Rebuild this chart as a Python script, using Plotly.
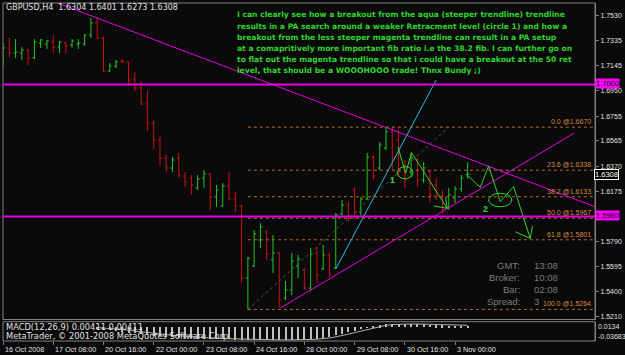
import plotly.graph_objects as go

# ---------------- data ----------------
BARS = list(range(75))
OPEN = [1.7188, 1.7281, 1.7242, 1.7242, 1.7265, 1.7204, 1.7319, 1.7312, 1.7327, 1.7288,
        1.7319, 1.7304, 1.7312, 1.7312, 1.7381, 1.7474, 1.7358, 1.7103, 1.7142, 1.7180,
        1.7173, 1.7042, 1.6972, 1.6849, 1.6702, 1.6571, 1.6432, 1.6355, 1.6432, 1.6293,
        1.6278, 1.6201, 1.6278, 1.6309, 1.6131, 1.6062, 1.6216, 1.6116, 1.6062, 1.5506,
        1.5599, 1.5799, 1.5861, 1.5645, 1.5699, 1.5352, 1.5414, 1.5599, 1.5568, 1.5429,
        1.5699, 1.5576, 1.5684, 1.5583, 1.6000, 1.6069, 1.6185, 1.6015, 1.6116, 1.6440,
        1.6355, 1.6509, 1.6633, 1.6571, 1.6378, 1.6324, 1.6417, 1.6262, 1.6324, 1.6224,
        1.6139, 1.6054, 1.6123, 1.6193, 1.6304]
HIGH = [1.7319, 1.7358, 1.7350, 1.7288, 1.7273, 1.7350, 1.7350, 1.7343, 1.7381, 1.7335,
        1.7335, 1.7350, 1.7350, 1.7389, 1.7512, 1.7512, 1.7366, 1.7165, 1.7188, 1.7196,
        1.7180, 1.7096, 1.7026, 1.6949, 1.6725, 1.6594, 1.6455, 1.6440, 1.6471, 1.6324,
        1.6301, 1.6301, 1.6339, 1.6316, 1.6224, 1.6239, 1.6324, 1.6170, 1.6069, 1.5668,
        1.5876, 1.5930, 1.5876, 1.5838, 1.5707, 1.5483, 1.5699, 1.5684, 1.5583, 1.5738,
        1.5745, 1.5761, 1.5699, 1.6008, 1.6108, 1.6093, 1.6208, 1.6131, 1.6471, 1.6455,
        1.6555, 1.6664, 1.6670, 1.6648, 1.6417, 1.6471, 1.6432, 1.6401, 1.6339, 1.6278,
        1.6185, 1.6201, 1.6216, 1.6301, 1.6401]
LOW = [1.7134, 1.7211, 1.7204, 1.7188, 1.7150, 1.7196, 1.7281, 1.7273, 1.7242, 1.7242,
       1.7242, 1.7281, 1.7273, 1.7296, 1.7358, 1.7350, 1.7096, 1.7096, 1.7126, 1.7165,
       1.6988, 1.6949, 1.6841, 1.6640, 1.6501, 1.6378, 1.6324, 1.6324, 1.6278, 1.6208,
       1.6147, 1.6185, 1.6201, 1.6031, 1.6054, 1.6054, 1.6108, 1.6015, 1.5468, 1.5264,
       1.5591, 1.5738, 1.5645, 1.5545, 1.5275, 1.5336, 1.5375, 1.5506, 1.5414, 1.5414,
       1.5468, 1.5568, 1.5514, 1.5576, 1.5992, 1.5938, 1.5954, 1.5992, 1.6108, 1.6262,
       1.6339, 1.6494, 1.6339, 1.6285, 1.6201, 1.6285, 1.6208, 1.6239, 1.6093, 1.6108,
       1.6008, 1.6031, 1.6085, 1.6170, 1.6273]
CLOSE = [1.7281, 1.7242, 1.7250, 1.7265, 1.7204, 1.7327, 1.7343, 1.7335, 1.7288, 1.7327,
         1.7296, 1.7335, 1.7319, 1.7381, 1.7474, 1.7358, 1.7103, 1.7142, 1.7173, 1.7173,
         1.7034, 1.6972, 1.6849, 1.6702, 1.6571, 1.6432, 1.6355, 1.6417, 1.6301, 1.6247,
         1.6224, 1.6270, 1.6309, 1.6131, 1.6185, 1.6216, 1.6116, 1.6062, 1.5506, 1.5660,
         1.5846, 1.5900, 1.5691, 1.5699, 1.5336, 1.5414, 1.5637, 1.5653, 1.5429, 1.5691,
         1.5529, 1.5684, 1.5529, 1.5992, 1.6069, 1.5969, 1.6008, 1.6116, 1.6440, 1.6293,
         1.6532, 1.6633, 1.6417, 1.6339, 1.6262, 1.6432, 1.6262, 1.6355, 1.6147, 1.6139,
         1.6031, 1.6147, 1.6193, 1.6278, 1.6308]

MACD_BARS = list(range(15, 75))
MACD_MAIN = [-0.004, -0.006, -0.008, -0.010, -0.012, -0.014, -0.016, -0.018, -0.020, -0.022,
             -0.024, -0.025, -0.026, -0.027, -0.028, -0.029, -0.030, -0.031, -0.031, -0.032,
             -0.032, -0.032, -0.033, -0.033, -0.034, -0.034, -0.034, -0.034, -0.034, -0.034,
             -0.034, -0.033, -0.033, -0.033, -0.032, -0.031, -0.028, -0.025, -0.021, -0.017,
             -0.013, -0.009, -0.005, -0.001, 0.002, 0.005, 0.007, 0.0075, 0.0075, 0.0075,
             0.0075, 0.007, 0.007, 0.006, 0.005, 0.0045, 0.0042, 0.0041, 0.0041, 0.0041]
MACD_SIGNAL = [-0.002, -0.003, -0.004, -0.006, -0.007, -0.009, -0.011, -0.013, -0.015, -0.017,
               -0.019, -0.020, -0.022, -0.023, -0.025, -0.026, -0.027, -0.028, -0.029, -0.030,
               -0.030, -0.031, -0.031, -0.032, -0.032, -0.033, -0.033, -0.033, -0.034, -0.034,
               -0.034, -0.034, -0.034, -0.033, -0.033, -0.032, -0.031, -0.029, -0.026, -0.023,
               -0.019, -0.015, -0.011, -0.007, -0.003, 0.001, 0.004, 0.006, 0.007, 0.0075,
               0.0075, 0.0075, 0.0072, 0.0068, 0.006, 0.0053, 0.0047, 0.0044, 0.0042, 0.0041]

DATE_TICKS = [0, 8, 16, 24, 32, 40, 48, 56, 64, 72]
DATE_LABELS = ["16 Oct 2008", "17 Oct 08:00", "20 Oct 16:00", "22 Oct 00:00", "23 Oct 08:00",
               "24 Oct 16:00", "28 Oct 00:00", "29 Oct 08:00", "30 Oct 16:00", "3 Nov 00:00"]
PRICE_TICKS = [1.7530, 1.7335, 1.7145, 1.6950, 1.6755, 1.6565, 1.6370, 1.6175,
               1.5980, 1.5790, 1.5595, 1.5400, 1.5210]

HLINES = [1.7000, 1.5980]
FIB_LEVELS = ["0.0", "23.6", "38.2", "50.0", "61.8", "100.0"]
FIB_PRICES = [1.6670, 1.6338, 1.6133, 1.5967, 1.5801, 1.5264]
FIB_START = 39
FIB_DIAG_X = [39, 71]
FIB_DIAG_Y = [1.5264, 1.6670]

TL_DOWN_X = [15, 62]          # magenta descending trendline anchors (ray both ways)
TL_DOWN_Y = [1.7512, 1.6649]
TL_UP_X = [44.2, 91.0]        # magenta ascending trendline segment
TL_UP_Y = [1.5275, 1.6625]
TL_AQUA_X = [53, 69]          # aqua steep trendline segment
TL_AQUA_Y = [1.5576, 1.7034]

PATH1_X = [62.9, 64.13, 65.08, 70.73]
PATH1_Y = [1.6519, 1.6314, 1.6473, 1.6044]
HEAD1_X = [68.6, 70.73, 70.5]
HEAD1_Y = [1.6062, 1.6044, 1.6131]
PATH2_X = [73.9, 76.03, 77.35, 79.2, 81.32, 83.97]
PATH2_Y = [1.6301, 1.6206, 1.6370, 1.6095, 1.6211, 1.5812]
HEAD2_X = [81.59, 83.97, 84.33]
HEAD2_Y = [1.5863, 1.5812, 1.5907]
ELLIPSES = [(62.79, 65.29, 1.6272, 1.6365), (77.35, 81.05, 1.6056, 1.6160)]
NUM_LABELS = [("1", 62.1, 1.6262), ("2", 76.9, 1.6036)]

TITLE = "GBPUSD,H4  1.6304 1.6401 1.6273 1.6308"
NOTE_LINES = [
    "I can clearly see how a breakout from the aqua (steeper trendline) trendline",
    "results in a PA search around a weaker Retracment level (circle 1) and how a",
    "breakout from the less steeper magenta trendline can result in a PA setup",
    "at a comapritively more important fib ratio i.e the 38.2 fib. I can further go on",
    "to flat out the magenta trendline so that i could have a breakout at the 50 ret",
    "level, that should be a WOOOHOOO trade! Thnx Bundy ;)",
]
INFO_KEYS = ["GMT:", "Broker:", "Bar:", "Spread:"]
INFO_VALS = ["13:08", "10:08", "02:08", "3"]
MACD_TITLE = "MACD(12,26,9) 0.00411 0.00411"
COPYRIGHT = "MetaTrader, \u00a9 2001-2008 MetaQuotes Software Corp."
LAST_PRICE = 1.6308
MACD_AXIS = ["0.0134", "-0.03683"]

# ---------------- styling / layout ----------------
W, H = 625, 355
ML, MR, MT, MB = 3, 28, 3, 14
PW, PH = W - ML - MR, H - MT - MB
FONT = "Liberation Sans, Arial, sans-serif"
WIDEFONT = "DejaVu Sans, Verdana, sans-serif"
BG = "#0a0a0a"
GRAY = "#808080"
UP, DN = "#25c425", "#cc1111"
MAGENTA = "#e600e6"
FIBC = "#b8692a"
GREEN = "#2fd42f"
XR = [0.0, 94.29]
YR = [1.5186, 1.7628]
MACD_R = [-0.03683, 0.0134]


def px(x):
    return (x - ML) / PW


def py(y):
    return (H - MB - y) / PH


MAIN_DOM = [py(319.5), 1.0]
MACD_DOM = [0.0, py(321.7)]

fig = go.Figure()
fig.add_trace(go.Ohlc(x=BARS, open=OPEN, high=HIGH, low=LOW, close=CLOSE,
                      increasing=dict(line=dict(color=UP, width=1)),
                      decreasing=dict(line=dict(color=DN, width=1)),
                      tickwidth=0.32, xaxis="x", yaxis="y", hoverinfo="skip"))

# trendlines
k = (TL_DOWN_Y[1] - TL_DOWN_Y[0]) / (TL_DOWN_X[1] - TL_DOWN_X[0])
dx = [XR[0] - 2, XR[1] + 2]
dy = [TL_DOWN_Y[0] + k * (v - TL_DOWN_X[0]) for v in dx]
fig.add_trace(go.Scatter(x=dx, y=dy, mode="lines", line=dict(color=MAGENTA, width=1), hoverinfo="skip"))
fig.add_trace(go.Scatter(x=TL_UP_X, y=TL_UP_Y, mode="lines", line=dict(color=MAGENTA, width=1), hoverinfo="skip"))
fig.add_trace(go.Scatter(x=TL_AQUA_X, y=TL_AQUA_Y, mode="lines", line=dict(color="#22bde0", width=1), hoverinfo="skip"))
fig.add_trace(go.Scatter(x=FIB_DIAG_X, y=FIB_DIAG_Y, mode="lines", line=dict(color="#555548", width=1, dash="dot"), hoverinfo="skip"))
for xs, ys in [(PATH1_X, PATH1_Y), (HEAD1_X, HEAD1_Y), (PATH2_X, PATH2_Y), (HEAD2_X, HEAD2_Y)]:
    fig.add_trace(go.Scatter(x=xs, y=ys, mode="lines", line=dict(color=GREEN, width=1), hoverinfo="skip"))

# MACD
fig.add_trace(go.Bar(x=MACD_BARS, y=MACD_MAIN, width=0.17, marker=dict(color="#c0c0c0", line=dict(width=0)),
                     xaxis="x", yaxis="y2", hoverinfo="skip"))
fig.add_trace(go.Scatter(x=MACD_BARS, y=MACD_SIGNAL, mode="lines", line=dict(color="#b0b0b0", width=1),
                         xaxis="x", yaxis="y2", hoverinfo="skip"))

shapes = []
shapes.append(dict(type="rect", xref="paper", yref="paper", x0=0, x1=1, y0=MAIN_DOM[0], y1=MAIN_DOM[1],
                   line=dict(color=GRAY, width=1), layer="above"))
shapes.append(dict(type="rect", xref="paper", yref="paper", x0=0, x1=1, y0=MACD_DOM[0], y1=MACD_DOM[1],
                   line=dict(color=GRAY, width=1), layer="above"))
for p in HLINES:
    shapes.append(dict(type="line", xref="paper", yref="y", x0=0, x1=1, y0=p, y1=p,
                       line=dict(color=MAGENTA, width=2)))
for p in FIB_PRICES:
    shapes.append(dict(type="line", xref="x", yref="y", x0=FIB_START, x1=XR[1], y0=p, y1=p,
                       line=dict(color=FIBC, width=1, dash="dot")))
for x0, x1, y0, y1 in ELLIPSES:
    shapes.append(dict(type="circle", xref="x", yref="y", x0=x0, x1=x1, y0=y0, y1=y1,
                       line=dict(color=GREEN, width=1)))

ann = []
ann.append(dict(text=TITLE, xref="paper", yref="paper", x=px(4), y=py(7.5), xanchor="left", yanchor="middle",
                showarrow=False, font=dict(family=WIDEFONT, size=8, color="#e0e0e0")))
for i, line in enumerate(NOTE_LINES):
    ann.append(dict(text="<b>" + line + "</b>", xref="paper", yref="paper", x=px(236), y=py(15 + 11.14 * i),
                    xanchor="left", yanchor="middle", showarrow=False,
                    font=dict(family=WIDEFONT, size=7.6, color=GREEN)))
for lvl, p in zip(FIB_LEVELS, FIB_PRICES):
    ann.append(dict(text=f"{lvl} @{p:.4f}", xref="paper", yref="y", x=px(595), y=p, xanchor="right",
                    yanchor="bottom", showarrow=False, font=dict(family=FONT, size=7, color="#d8883e")))
for i, (kk, vv) in enumerate(zip(INFO_KEYS, INFO_VALS)):
    yy = py(265 + 12.2 * i)
    ann.append(dict(text=kk, xref="paper", yref="paper", x=px(524), y=yy, xanchor="right", yanchor="middle",
                    showarrow=False, font=dict(family=FONT, size=9.5, color="#7a7a7a")))
    ann.append(dict(text=vv, xref="paper", yref="paper", x=px(534), y=yy, xanchor="left", yanchor="middle",
                    showarrow=False, font=dict(family=FONT, size=9.5, color="#7a7a7a")))
ann.append(dict(text=MACD_TITLE, xref="paper", yref="paper", x=px(4), y=py(327.3), xanchor="left", yanchor="middle",
                showarrow=False, font=dict(family=WIDEFONT, size=8.3, color="#e0e0e0")))
ann.append(dict(text=COPYRIGHT, xref="paper", yref="paper", x=px(4), y=py(335.5), xanchor="left", yanchor="middle",
                showarrow=False, font=dict(family=WIDEFONT, size=8.3, color="#e0e0e0")))
for t, lab in zip(DATE_TICKS, DATE_LABELS):
    ann.append(dict(text=lab, xref="x", yref="paper", x=t, y=py(349.3), xanchor="left", yanchor="middle",
                    xshift=0, showarrow=False, font=dict(family=FONT, size=7.2, color="#e0e0e0")))
for t, yy in zip(MACD_AXIS, [326.7, 336.2]):
    ann.append(dict(text=t, xref="paper", yref="paper", x=1, y=py(yy), xanchor="left", yanchor="middle",
                    xshift=1, showarrow=False, font=dict(family=FONT, size=7, color="#e0e0e0")))
for p in HLINES:
    ann.append(dict(text=f"{p:.4f}", xref="paper", yref="y", x=1, y=p, xanchor="left", yanchor="middle",
                    xshift=0, yshift=1, showarrow=False, bgcolor="#ff00ff", borderpad=0,
                    font=dict(family=FONT, size=7.5, color="#000000")))
ann.append(dict(text=f"{LAST_PRICE:.4f}", xref="paper", yref="y", x=1, y=LAST_PRICE, xanchor="left",
                yanchor="middle", xshift=-1, showarrow=False, bgcolor="#000000", bordercolor="#ffffff",
                borderwidth=1, borderpad=0, font=dict(family=FONT, size=7.5, color="#ffffff")))
for t, bx, by in NUM_LABELS:
    ann.append(dict(text="<b>" + t + "</b>", xref="x", yref="y", x=bx, y=by, showarrow=False,
                    font=dict(family=FONT, size=9, color=GREEN)))

# price axis labels: the 1.5980 label sits under the magenta price box, as in MT4
PRICE_TEXT = ["" if v in HLINES else f"{v:.4f}" for v in PRICE_TICKS]

fig.update_layout(
    width=W, height=H, margin=dict(l=ML, r=MR, t=MT, b=MB, pad=0),
    paper_bgcolor=BG, plot_bgcolor=BG, showlegend=False, bargap=0,
    shapes=shapes, annotations=ann,
    xaxis=dict(range=XR, anchor="y2", tickvals=DATE_TICKS, showticklabels=False, ticks="outside",
               ticklen=3, tickcolor=GRAY, showgrid=False, zeroline=False, showline=False,
               rangeslider=dict(visible=False), fixedrange=True),
    yaxis=dict(domain=MAIN_DOM, range=YR, side="right", anchor="x", tickvals=PRICE_TICKS,
               ticktext=PRICE_TEXT, ticks="outside", ticklen=3, tickcolor=GRAY,
               tickfont=dict(family=FONT, size=7, color="#e0e0e0"), showgrid=False, zeroline=False,
               showline=True, linecolor=GRAY, linewidth=1, fixedrange=True),
    yaxis2=dict(domain=MACD_DOM, range=MACD_R, side="right", anchor="x", showticklabels=False,
                ticks="", showgrid=False, zeroline=False, showline=True, linecolor=GRAY,
                linewidth=1, fixedrange=True),
)

fig.write_html("out.html")
